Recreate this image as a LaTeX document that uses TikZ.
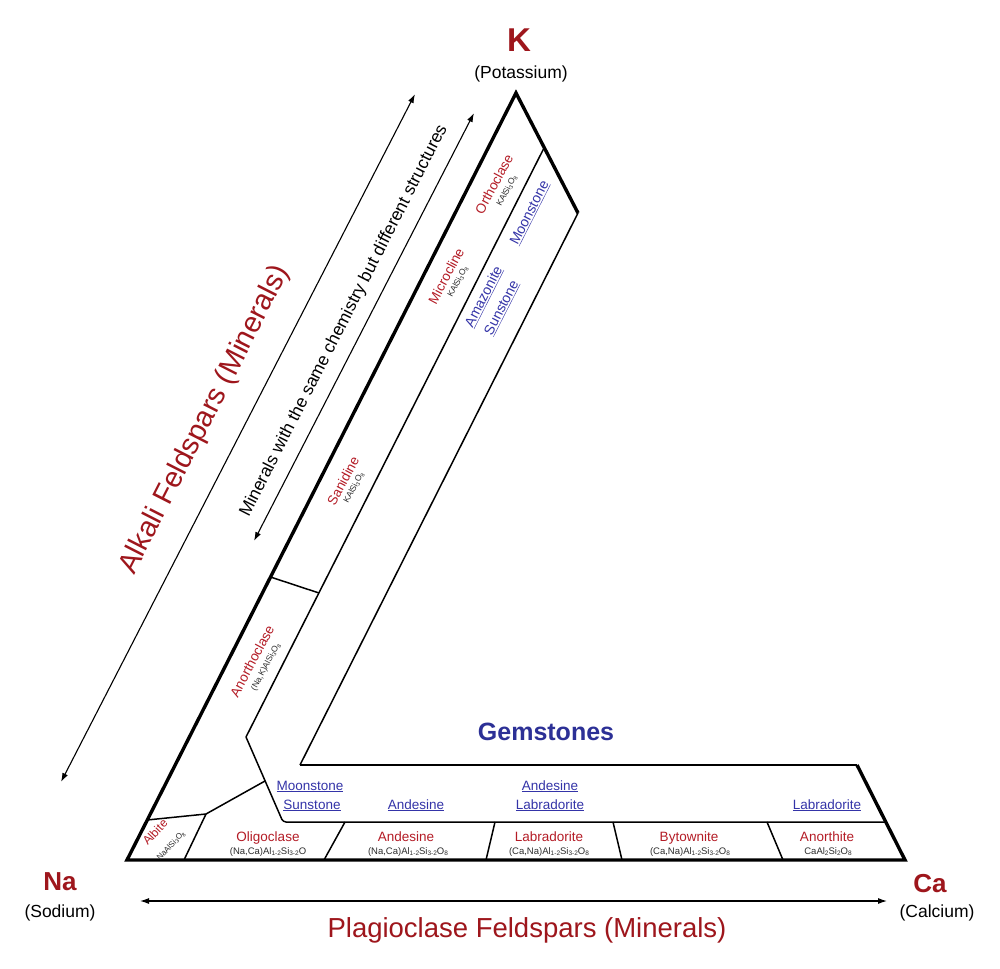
\documentclass[tikz,border=0pt]{standalone}
\usepackage{fontspec}
\setmainfont{Liberation Sans}
\usetikzlibrary{arrows.meta}
\definecolor{kred}{RGB}{158,22,28}
\definecolor{lred}{RGB}{180,28,38}
\definecolor{gblue}{RGB}{44,48,150}
\definecolor{lblue}{RGB}{52,52,168}
\definecolor{fgray}{RGB}{45,45,45}
\newcommand{\sbs}[1]{\raisebox{-0.3ex}{\fontsize{6.5pt}{7pt}\selectfont #1}}
\newcommand{\ssbs}[1]{\raisebox{-0.3ex}{\fontsize{5.5pt}{6pt}\selectfont #1}}
\newcommand{\setfs}[1]{\fontsize{#1}{#1}\selectfont}
\begin{document}
\begin{tikzpicture}[x=1pt,y=-1pt,
  outer/.style={line width=3.4pt, line join=miter},
  inner/.style={line width=1.5pt, line join=round},
  mid/.style={line width=2pt, line join=miter},
  dbl/.style={line width=1.1pt, {Latex[length=9pt,width=6pt]}-{Latex[length=9pt,width=6pt]}},
  elem/.style={text=kred, font=\bfseries\setfs{26pt}, anchor=base, inner sep=0pt},
  elemname/.style={text=black, font=\setfs{17.5pt}, anchor=base, inner sep=0pt},
  mlab/.style={text=lred, font=\setfs{13.5pt}, anchor=base, inner sep=0pt},
  form/.style={text=fgray, font=\setfs{9.5pt}, anchor=base, inner sep=0pt},
  gem/.style={text=lblue, font=\setfs{13.5pt}, anchor=base, inner sep=0pt},
  rmlab/.style={text=lred, font=\setfs{13.5pt}, rotate=62, inner sep=0pt},
  rform/.style={text=fgray, font=\setfs{8.5pt}, rotate=62, inner sep=0pt},
  rgem/.style={text=lblue, font=\setfs{14pt}, rotate=63, inner sep=0pt}
]
\fill[white] (0,0) rectangle (1000,968);
\useasboundingbox (0,0) rectangle (1000,968);

% corner coordinates
\coordinate (na) at (127,860);
\coordinate (k) at (516,93);
\coordinate (kr) at (578,213);
\coordinate (ib) at (300,765);
\coordinate (rt) at (857,765);
\coordinate (ca) at (905,860);
\coordinate (a1) at (544,148);
\coordinate (a2) at (246,737);
\coordinate (a3) at (283,822);
\coordinate (a4) at (886,822);
\coordinate (s1) at (270.5,577);
\coordinate (s2) at (319,593);
\coordinate (b1) at (147,820);
\coordinate (b2) at (206,814);
\coordinate (b3) at (265,781);
\coordinate (b4) at (184,860);
\coordinate (d1t) at (345,822); \coordinate (d1b) at (324,860);
\coordinate (d2t) at (495,822); \coordinate (d2b) at (486,860);
\coordinate (d3t) at (613,822); \coordinate (d3b) at (622,860);
\coordinate (d4t) at (767,822); \coordinate (d4b) at (783,860);

% inner lines
\draw[inner] (a1) -- (a2) [rounded corners=3pt] -- (a3) -- (a4);
\draw[inner] (s1) -- (s2);
\draw[inner] (b1) -- (b2) -- (b3);
\draw[inner] (b2) -- (b4);
\draw[inner] (d1t) -- (d1b);
\draw[inner] (d2t) -- (d2b);
\draw[inner] (d3t) -- (d3b);
\draw[inner] (d4t) -- (d4b);
\draw[inner] (kr) -- (ib);
\draw[mid] (ib) -- (rt);
% outline
\draw[outer] (kr) -- (k) -- (na) -- (ca) -- (rt);

% arrows
\coordinate (la1) at (61,782); \coordinate (la2) at (415,94);
\coordinate (ma1) at (254,541); \coordinate (ma2) at (474,113);
\coordinate (ba1) at (140,901); \coordinate (ba2) at (887,901);
\draw[dbl] (la1) -- (la2);
\draw[dbl] (ma1) -- (ma2);
\draw[dbl] (ba1) -- (ba2);

% element labels
\node[elem, font=\bfseries\setfs{33pt}] (kt) at (519,52) {K};
\node[elemname] (kn) at (521,79) {(Potassium)};
\node[elem] (nat) at (60,890) {Na};
\node[elemname] (nan) at (60,917) {(Sodium)};
\node[elem] (cat) at (930,892) {Ca};
\node[elemname] (can) at (937,917) {(Calcium)};

% titles
\node[text=kred, font=\setfs{27.5pt}, anchor=base, inner sep=0pt] (plag) at (527,937) {Plagioclase Feldspars (Minerals)};
\node[text=kred, font=\setfs{29pt}, rotate=63, inner sep=0pt] (alk) at (205,420) {Alkali Feldspars (Minerals)};
\node[text=black, font=\setfs{17.5pt}, rotate=63, inner sep=0pt] (same) at (344,321) {Minerals with the same chemistry but different structures};
\node[text=gblue, font=\bfseries\setfs{25pt}, anchor=base, inner sep=0pt] (gems) at (546,740) {Gemstones};

% plagioclase row
\node[mlab] (olig) at (268,841) {Oligoclase};
\node[form] (oligf) at (268,854) {(Na,Ca)Al\sbs{1-2}Si\sbs{3-2}O};
\node[mlab] (ande) at (406,841) {Andesine};
\node[form] (andef) at (408,854) {(Na,Ca)Al\sbs{1-2}Si\sbs{3-2}O\sbs{8}};
\node[mlab] (labr) at (549,841) {Labradorite};
\node[form] (labrf) at (549,854) {(Ca,Na)Al\sbs{1-2}Si\sbs{3-2}O\sbs{8}};
\node[mlab] (byto) at (689,841) {Bytownite};
\node[form] (bytof) at (690,854) {(Ca,Na)Al\sbs{1-2}Si\sbs{3-2}O\sbs{8}};
\node[mlab] (anor) at (827,841) {Anorthite};
\node[form] (anorf) at (828,854) {CaAl\sbs{2}Si\sbs{2}O\sbs{8}};
\node[text=lred, font=\setfs{12pt}, rotate=47, inner sep=0pt] (albi) at (155,832) {Albite};
\node[text=fgray, font=\setfs{8pt}, rotate=47, inner sep=0pt] (albif) at (171,846) {NaAlSi\ssbs{3}O\ssbs{8}};

% gemstone row
\node[gem] (g1) at (310,790) {\underline{Moonstone}};
\node[gem] (g2) at (312,809) {\underline{Sunstone}};
\node[gem] (g3) at (416,809) {\underline{Andesine}};
\node[gem] (g4) at (550,790) {\underline{Andesine}};
\node[gem] (g5) at (550,809) {\underline{Labradorite}};
\node[gem] (g6) at (827,809) {\underline{Labradorite}};

% alkali band
\node[rmlab] (orth) at (494,184) {Orthoclase};
\node[rform] (orthf) at (507,191) {KAlSi\ssbs{3}O\ssbs{8}};
\node[rmlab] (micr) at (446,276) {Microcline};
\node[rform] (micrf) at (458,282) {KAlSi\ssbs{3}O\ssbs{8}};
\node[rmlab] (sani) at (343,481) {Sanidine};
\node[rform] (sanif) at (354,488) {KAlSi\ssbs{3}O\ssbs{8}};
\node[rmlab] (anth) at (252,661) {Anorthoclase};
\node[rform] (anthf) at (266,667) {(Na,K)AlSi\ssbs{3}O\ssbs{8}};

% gemstone band
\node[rgem] (moon) at (530,213) {\underline{Moonstone}};
\node[rgem] (amaz) at (484,297) {\underline{Amazonite}};
\node[rgem] (suns) at (502,308) {\underline{Sunstone}};
\end{tikzpicture}
\end{document}
